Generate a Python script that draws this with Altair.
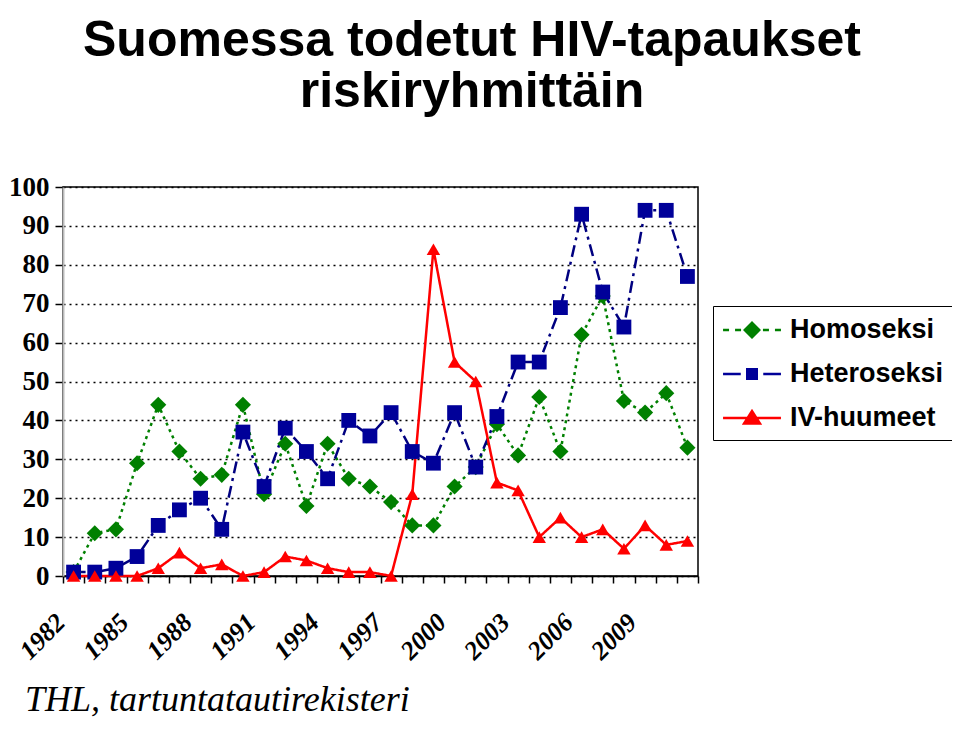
import json
import altair as alt
import pandas as pd

# ---------------- data ----------------
years = ["1982", "1983", "1984", "1985", "1986", "1987", "1988", "1989", "1990", "1991",
         "1992", "1993", "1994", "1995", "1996", "1997", "1998", "1999", "2000", "2001",
         "2002", "2003", "2004", "2005", "2006", "2007", "2008", "2009", "2010", "2011"]
homoseksi = [1, 11, 12, 29, 44, 32, 25, 26, 44, 21, 34, 18, 34, 25, 23, 19, 13, 13, 23, 28,
             39, 31, 46, 32, 62, 72, 45, 42, 47, 33]
heteroseksi = [1, 1, 2, 5, 13, 17, 20, 12, 37, 23, 38, 32, 25, 40, 36, 42, 32, 29, 42, 28,
               41, 55, 55, 69, 93, 73, 64, 94, 94, 77]
iv_huumeet = [0, 0, 0, 0, 2, 6, 2, 3, 0, 1, 5, 4, 2, 1, 1, 0, 21, 84, 55, 50,
              24, 22, 10, 15, 10, 12, 7, 13, 8, 9]
series_names = ["Homoseksi", "Heteroseksi", "IV-huumeet"]
x_tick_labels = ["1982", "1985", "1988", "1991", "1994", "1997", "2000", "2003", "2006", "2009"]
y_tick_values = [0, 10, 20, 30, 40, 50, 60, 70, 80, 90, 100]
title_lines = ["Suomessa todetut HIV-tapaukset", "riskiryhmittäin"]
footer = ["THL, tartuntatautirekisteri"]

# ---------------- styles ----------------
line_colors = ["#008000", "#000080", "#ff0000"]
marker_colors = ["#008000", "#000099", "#ff0000"]
dashes = [[3, 4], [12, 5, 3, 5], [1, 0]]
shapes = ["diamond", "square", "triangle-up"]
sizes = [260, 180, 420]
legend_paths = [
    "M-1.93,-0.08L-1.53,-0.08L-1.53,0.08L-1.93,0.08Z "
    "M-1.13,-0.08L-0.73,-0.08L-0.73,0.08L-1.13,0.08Z "
    "M0,-0.6L0.6,0L0,0.6L-0.6,0Z "
    "M0.73,-0.08L1.13,-0.08L1.13,0.08L0.73,0.08Z "
    "M1.53,-0.08L1.93,-0.08L1.93,0.08L1.53,0.08Z",
    "M-1.93,-0.09L-0.75,-0.09L-0.75,0.09L-1.93,0.09Z "
    "M-0.4,-0.4L0.4,-0.4L0.4,0.4L-0.4,0.4Z "
    "M0.75,-0.09L1.93,-0.09L1.93,0.09L0.75,0.09Z",
    "M-1.93,-0.08L1.93,-0.08L1.93,0.08L-1.93,0.08Z "
    "M0,-0.62L0.68,0.45L-0.68,0.45Z",
]

rows = []
for name, vals in zip(series_names, [homoseksi, heteroseksi, iv_huumeet]):
    for yr, v in zip(years, vals):
        rows.append({"year": yr, "value": v, "series": name})
df = pd.DataFrame(rows)

label_expr = "indexof(%s, datum.label) >= 0 ? datum.label : ''" % json.dumps(x_tick_labels).replace('"', "'")

x_enc = alt.X(
    "year:N", sort=years, bandPosition=0.5,
    scale=alt.Scale(type="band", paddingInner=0, paddingOuter=0),
    axis=alt.Axis(
        title=None, labelExpr=label_expr, tickBand="extent", grid=False,
        labelAngle=-45, labelAlign="right", labelBaseline="middle",
        labelFont="Liberation Serif", labelFontSize=26, labelFontWeight="bold",
        labelFontStyle="italic", labelColor="black", labelPadding=35, labelOffset=-13,
        domainColor="black", domainWidth=1.5, tickColor="black", tickSize=7, tickWidth=1.5,
    ),
)
y_enc = alt.Y(
    "value:Q", scale=alt.Scale(domain=[0, 100], nice=False),
    axis=alt.Axis(
        title=None, values=y_tick_values, grid=True, gridColor="black", gridDash=[2, 4],
        gridWidth=1.5, labelFont="Liberation Serif", labelFontSize=27, labelFontWeight="bold",
        labelColor="black", labelPadding=6, domainColor="#bbbbbb", domainWidth=2,
        tickColor="black", tickSize=8, tickWidth=1.5,
    ),
)

base = alt.Chart(df)

lines = base.mark_line(strokeWidth=2.5).encode(
    x=x_enc, y=y_enc,
    color=alt.Color("series:N", scale=alt.Scale(domain=series_names, range=line_colors), legend=None),
    strokeDash=alt.StrokeDash("series:N", scale=alt.Scale(domain=series_names, range=dashes), legend=None),
)

points = base.mark_point(filled=True, opacity=1).encode(
    x=x_enc, y=y_enc,
    color=alt.Color("series:N", scale=alt.Scale(domain=series_names, range=marker_colors), legend=None),
    shape=alt.Shape("series:N", scale=alt.Scale(domain=series_names, range=shapes), legend=None),
    size=alt.Size("series:N", scale=alt.Scale(domain=series_names, range=sizes), legend=None),
)

legend_def = alt.Legend(
    orient="none", legendX=650, legendY=119, title=None,
    labelFont="Liberation Sans", labelFontSize=27, labelFontWeight="bold", labelColor="black",
    symbolSize=900, symbolStrokeWidth=0, padding=9, rowPadding=16, symbolOffset=15,
    labelOffset=23, strokeColor="black", fillColor="white",
)
legend_layer = base.transform_filter("false").mark_point(filled=True, opacity=1, size=900).encode(
    color=alt.Color("series:N", scale=alt.Scale(domain=series_names, range=marker_colors), legend=legend_def),
    shape=alt.Shape("series:N", scale=alt.Scale(domain=series_names, range=legend_paths), legend=legend_def),
)

footer_layer = alt.Chart(pd.DataFrame({"t": footer})).mark_text(
    align="left", baseline="alphabetic", font="Liberation Serif", fontStyle="italic",
    fontSize=36, color="black",
).encode(text="t:N", x=alt.value(-38), y=alt.value(524))

chart = alt.layer(lines, points, legend_layer, footer_layer).resolve_scale(
    color="independent", shape="independent"
).properties(
    width=635, height=389,
    autosize=alt.AutoSizeParams(type="none"),
    padding={"left": 55, "top": 179, "right": 254, "bottom": 142},
    title=alt.TitleParams(
        text=title_lines, font="Liberation Sans", fontSize=50, fontWeight="bold", color="black",
        anchor="middle", frame="group", dx=91.5, offset=6.5, baseline="bottom", lineHeight=51,
    ),
).configure_view(stroke="black", strokeWidth=1.5)

chart.save("out.html", embed_options={"renderer": "svg", "actions": False})
